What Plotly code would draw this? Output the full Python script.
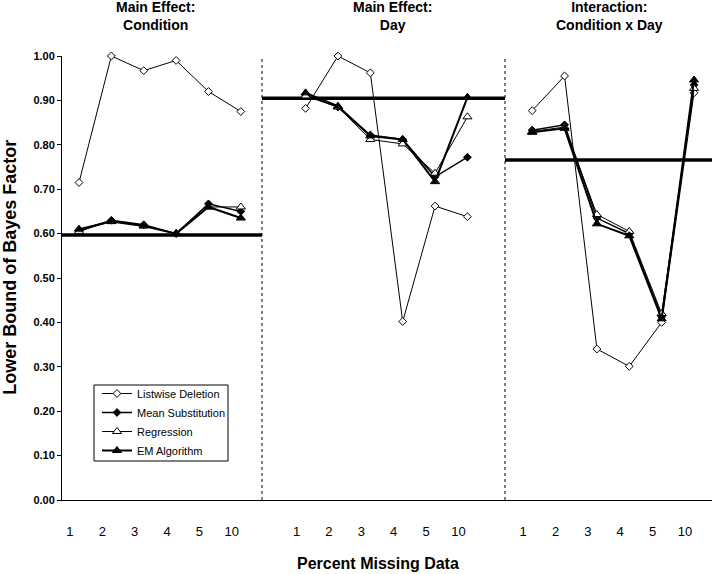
import plotly.graph_objects as go

# ---------------- data ----------------
PERCENT = ["1", "2", "3", "4", "5", "10"]
PANEL_TITLES = ["<b>Main Effect:</b><br><b>Condition</b>",
                "<b>Main Effect:</b><br><b>Day</b>",
                "<b>Interaction:</b><br><b>Condition x Day</b>"]

LISTWISE = [
    [0.715, 1.000, 0.967, 0.990, 0.920, 0.875],
    [0.882, 1.000, 0.962, 0.402, 0.662, 0.638],
    [0.877, 0.955, 0.340, 0.301, 0.400, 0.917],
]
MEAN_SUB = [
    [0.607, 0.630, 0.620, 0.600, 0.667, 0.650],
    [0.912, 0.885, 0.822, 0.812, 0.728, 0.772],
    [0.833, 0.845, 0.635, 0.600, 0.413, 0.935],
]
REGRESSION = [
    [0.605, 0.628, 0.618, 0.600, 0.660, 0.660],
    [0.910, 0.885, 0.812, 0.802, 0.736, 0.863],
    [0.830, 0.840, 0.643, 0.605, 0.420, 0.927],
]
EM_ALG = [
    [0.610, 0.627, 0.617, 0.600, 0.660, 0.635],
    [0.917, 0.887, 0.820, 0.812, 0.717, 0.907],
    [0.828, 0.837, 0.622, 0.595, 0.408, 0.946],
]
CRITERION = [0.597, 0.905, 0.766]

# ---------------- layout helpers ----------------
GAP = 7  # category slots between panel starts
BOUNDS = [-0.525, 5.653, 13.16, 19.555]
TITLE_X = [2.35, 9.67, 16.40]
FONT = "Liberation Sans, Arial, sans-serif"


def xpos(panel):
    return [panel * GAP + i for i in range(len(PERCENT))]


series = [
    ("Listwise Deletion", LISTWISE, dict(symbol="diamond", size=6, color="white",
                                         line=dict(color="black", width=1)), 1.0),
    ("Mean Substitution", MEAN_SUB, dict(symbol="diamond", size=6, color="black",
                                         line=dict(color="black", width=1)), 1.5),
    ("Regression", REGRESSION, dict(symbol="triangle-up", size=8, color="white",
                                    line=dict(color="black", width=1)), 1.0),
    ("EM Algorithm", EM_ALG, dict(symbol="triangle-up", size=8, color="black",
                                  line=dict(color="black", width=1)), 2.0),
]

fig = go.Figure()

# criterion lines
for p in range(3):
    fig.add_trace(go.Scatter(
        x=[BOUNDS[p], BOUNDS[p + 1]], y=[CRITERION[p], CRITERION[p]],
        mode="lines", line=dict(color="black", width=3.5),
        showlegend=False, hoverinfo="skip"))

for name, data, marker, lw in series:
    for p in range(3):
        fig.add_trace(go.Scatter(
            x=xpos(p), y=data[p], mode="lines+markers", name=name,
            legendgroup=name, showlegend=(p == 0),
            line=dict(color="black", width=lw), marker=marker,
            cliponaxis=False))

tickvals = []
ticktext = []
for p in range(3):
    tickvals += [v - 0.28 for v in xpos(p)]
    ticktext += PERCENT

shapes = []
for b in BOUNDS[1:3]:
    shapes.append(dict(type="line", xref="x", yref="y", x0=b, x1=b, y0=0, y1=1.03,
                       line=dict(color="black", width=1, dash="dot")))
# legend frame
shapes.append(dict(type="rect", xref="paper", yref="paper",
                   x0=(94 - 62) / 650, x1=(228 - 62) / 650,
                   y0=(500 - 461) / 444, y1=(500 - 385) / 444,
                   line=dict(color="black", width=1), fillcolor="white",
                   layer="above"))

annotations = []
for p in range(3):
    annotations.append(dict(x=TITLE_X[p], xref="x", y=1.089, yref="paper",
                            text=PANEL_TITLES[p], showarrow=False,
                            font=dict(size=14, color="black", family=FONT),
                            xanchor="center", yanchor="middle"))
annotations.append(dict(x=-0.08, xref="paper", y=0.523, yref="paper",
                        text="<b>Lower Bound of Bayes Factor</b>", textangle=-90,
                        showarrow=False, font=dict(size=18, color="black", family=FONT),
                        xanchor="center", yanchor="middle"))
annotations.append(dict(x=0.486, xref="paper", y=-0.142, yref="paper",
                        text="<b>Percent Missing Data</b>", showarrow=False,
                        font=dict(size=16, color="black", family=FONT),
                        xanchor="center", yanchor="middle"))

fig.update_layout(
    width=712, height=574,
    margin=dict(l=62, r=0, t=56, b=74),
    paper_bgcolor="white", plot_bgcolor="white",
    font=dict(family=FONT, color="black"),
    xaxis=dict(range=[BOUNDS[0], BOUNDS[3]], tickmode="array", tickvals=tickvals,
               ticktext=ticktext, ticks="", showgrid=False, zeroline=False,
               showline=True, linecolor="black", linewidth=1,
               ticklabelstandoff=19, tickfont=dict(size=13, color="black")),
    yaxis=dict(range=[0, 1.0], tickmode="array",
               tickvals=[i / 10 for i in range(11)],
               ticktext=["<b>%.2f</b>" % (i / 10) for i in range(11)],
               ticks="outside", ticklen=4, tickcolor="black",
               showgrid=False, zeroline=False, showline=True,
               linecolor="black", linewidth=1,
               tickfont=dict(size=11, color="black")),
    legend=dict(x=(97 - 62) / 650, y=(500 - 379) / 444, xanchor="left", yanchor="top",
                bgcolor="rgba(0,0,0,0)", borderwidth=0,
                font=dict(size=11, color="black"), tracegroupgap=0),
    shapes=shapes, annotations=annotations, showlegend=True,
)

fig.write_html("out.html",
               config={"displayModeBar": False},
               post_script="document.body.style.margin='0';"
                           "document.body.style.overflow='hidden';")
